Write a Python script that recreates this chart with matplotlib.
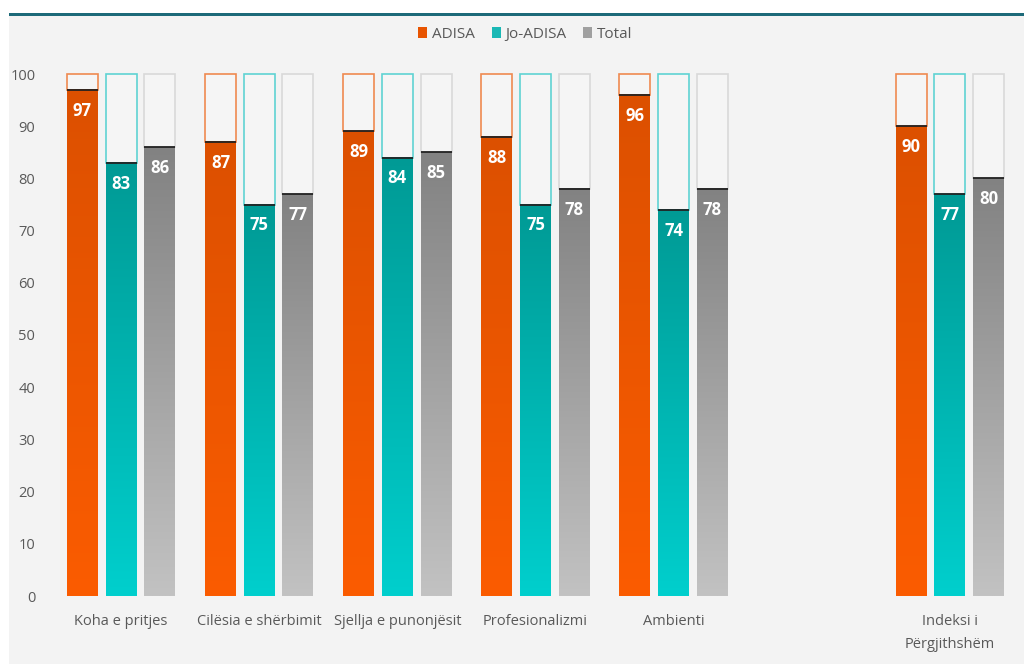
import numpy as np
import matplotlib
matplotlib.use('Agg')
import matplotlib.pyplot as plt
from matplotlib.colors import LinearSegmentedColormap
from matplotlib.patches import Rectangle, Patch

# ── Data ────────────────────────────────────────────────────────────────────
CATEGORIES = ['Koha e pritjes', 'Cilësia e shërbimit', 'Sjellja e punonjësit',
              'Profesionalizmi', 'Ambienti', 'Indeksi i\nPërgjithshëm']
CAT_POS = [0, 1, 2, 3, 4, 6]   # empty slot before the index group
SERIES = ['ADISA', 'Jo-ADISA', 'Total']
ADISA = [97, 87, 89, 88, 96, 90]
JO_ADISA = [83, 75, 84, 75, 74, 77]
TOTAL = [86, 77, 85, 78, 78, 80]
Y_TICKS = list(range(0, 101, 10))

# ── Style ───────────────────────────────────────────────────────────────────
BG = '#f3f3f3'
TEXT = '#595959'
# (bottom colour, top colour, outline of the 100% frame)
GRADS = {
    'ADISA':    ('#fb5c00', '#dc5000', '#ef8a50'),
    'Jo-ADISA': ('#00cfcd', '#009a95', '#5fd3d3'),
    'Total':    ('#c2c2c2', '#828282', '#d9d9d9'),
}
LEGEND_COL = {'ADISA': '#e85400', 'Jo-ADISA': '#1ab8b5', 'Total': '#a0a0a0'}
BAR_W = 0.224
OFFS = [-0.28, 0.0, 0.28]

plt.rcParams['font.family'] = ['Open Sans', 'DejaVu Sans']

fig = plt.figure(figsize=(10.24, 6.69), dpi=100)
fig.patch.set_facecolor('white')

# panel background and top rule
fig.patches.append(Rectangle((9 / 1024, 5 / 669), 1 - 9 / 1024, 1 - 21 / 669,
                             transform=fig.transFigure, facecolor=BG,
                             edgecolor='none', zorder=-10))
fig.patches.append(Rectangle((9 / 1024, 1 - 16 / 669), 1 - 9 / 1024, 3 / 669,
                             transform=fig.transFigure, facecolor='#1d6a79',
                             edgecolor='none', zorder=-9))

ax = fig.add_axes([52 / 1024, 73 / 669, (1019 - 52) / 1024, (596 - 74) / 669])
ax.set_zorder(5)
ax.set_facecolor('none')

for s, (name, vals) in enumerate(zip(SERIES, [ADISA, JO_ADISA, TOTAL])):
    c_bot, c_top, c_edge = GRADS[name]
    cmap = LinearSegmentedColormap.from_list(name, [c_bot, c_top])
    for pos, v in zip(CAT_POS, vals):
        x0 = pos + OFFS[s] - BAR_W / 2
        # frame up to 100
        ax.add_patch(Rectangle((x0, v), BAR_W, 100 - v, facecolor='#f5f5f5',
                               edgecolor=c_edge, linewidth=1.2, zorder=2,
                               clip_on=False))
        # gradient value bar
        grad = np.linspace(0, 1, 256).reshape(-1, 1)
        ax.imshow(grad, cmap=cmap, origin='lower', aspect='auto',
                  extent=[x0, x0 + BAR_W, 0, v], zorder=3, interpolation='bilinear')
        ax.plot([x0, x0 + BAR_W], [v, v], color='#222222', lw=1.3, zorder=4,
                solid_capstyle='butt')
        ax.text(x0 + BAR_W / 2, v - 4, f'{v}', ha='center', va='center',
                color='white', fontsize=12, fontweight='bold', zorder=5)

ax.set_xlim(-0.5, 6.5)
ax.set_ylim(0, 100)
ax.set_xticks(CAT_POS)
ax.set_xticklabels(CATEGORIES, color=TEXT, fontsize=10.5, linespacing=1.75)
ax.set_yticks(Y_TICKS)
ax.set_yticklabels([str(t) for t in Y_TICKS], color=TEXT, fontsize=10.5)
ax.tick_params(axis='x', length=0, pad=13)
ax.tick_params(axis='y', length=0, pad=12)
for sp in ax.spines.values():
    sp.set_visible(False)

handles = [Patch(facecolor=LEGEND_COL[n], edgecolor='none', label=n) for n in SERIES]
fig.legend(handles=handles, loc='center', bbox_to_anchor=(0.513, 0.949), ncol=3,
           frameon=False, fontsize=11, labelcolor=TEXT, handlelength=0.6,
           handleheight=0.8, handletextpad=0.3, columnspacing=1.1)

fig.savefig('out.png', dpi=100, facecolor=fig.get_facecolor())
